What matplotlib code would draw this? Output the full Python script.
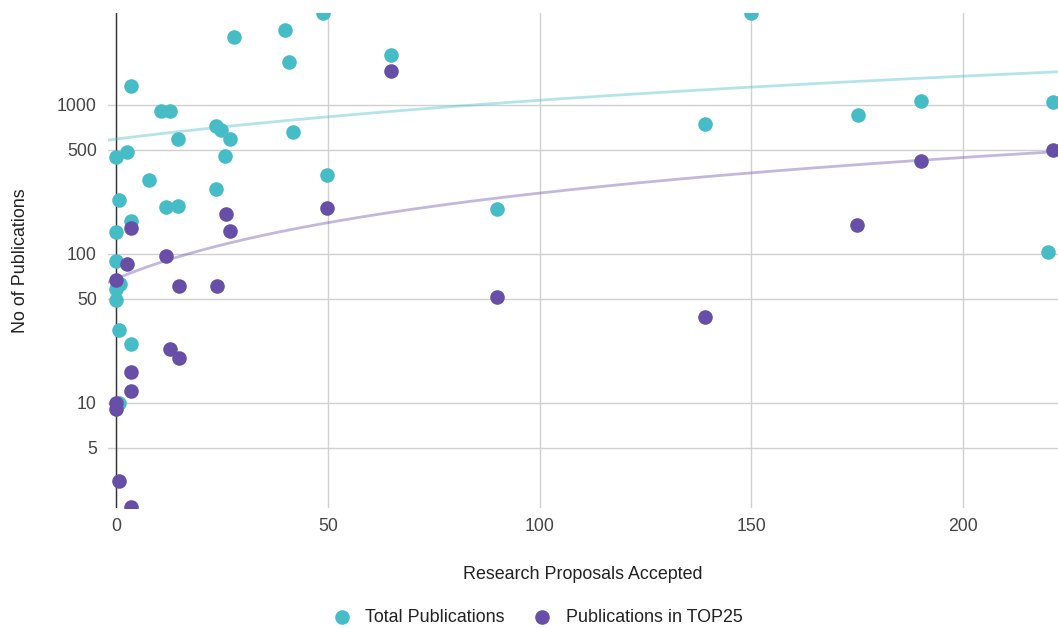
import numpy as np
import matplotlib.pyplot as plt

# research proposals accepted vs. publications
total_x = [3.5, 10.6, 12.7, 27.9, 39.9, 40.8, 48.9, 64.9, 23.6, 24.8, 14.6, 27.0, 41.8,
           0, 2.6, 25.7, 49.8, 7.8, 23.6, 0.7, 11.8, 14.6, 3.5, 0, 89.9, 139, 150,
           175.2, 190, 221.2, 220, 0, 0.9, 0, 0, 0.7, 3.5, 0.7]
total_y = [1341, 911, 911, 2857, 3185, 1944, 4140, 2166, 723, 680, 591, 591, 659,
           448, 484, 455, 339, 314, 273, 230, 207, 210, 166, 141, 201, 745, 4140,
           858, 1064, 1047, 103, 90, 63, 58, 49, 31, 25, 10]

top25_x = [64.9, 3.5, 26, 27, 49.8, 11.8, 2.6, 0, 14.9, 23.8, 89.9, 139, 175, 190,
           221.2, 12.7, 14.9, 3.5, 3.5, 0, 0, 0.7, 3.5]
top25_y = [1691, 149, 185, 143, 204, 97, 86, 67, 61, 61, 51, 38, 157, 421,
           499, 23, 20, 16, 12, 10, 9.1, 3.0, 2.0]

# linear trendlines (intercept, slope) as given by the spreadsheet
total_trend = (590, 4.85)
top25_trend = (68, 1.88)

teal = "#46BDC6"
purple = "#674EA7"

plt.rcParams["font.family"] = ["Liberation Sans", "DejaVu Sans"]

fig = plt.figure(figsize=(10.58, 6.28), dpi=100)
ax = fig.add_axes([108 / 1058, 1 - 508 / 628, 950 / 1058, 495 / 628])

ax.set_yscale("log")
ax.set_xlim(-1.9, 222.4)
ax.set_ylim(1.97, 4140)

xs = np.linspace(-1.9, 222.4, 300)
for (a, b), c in [(total_trend, teal), (top25_trend, purple)]:
    ax.plot(xs, a + b * xs, color=c, alpha=0.4, lw=2, zorder=2)

ax.scatter(total_x, total_y, s=110, color=teal, label="Total Publications", zorder=3, linewidths=0)
ax.scatter(top25_x, top25_y, s=110, color=purple, label="Publications in TOP25", zorder=3, linewidths=0)

ax.set_yticks([5, 10, 50, 100, 500, 1000])
ax.set_yticklabels(["5", "10", "50", "100", "500", "1000"])
ax.yaxis.set_minor_locator(plt.NullLocator())
ax.set_xticks([0, 50, 100, 150, 200])
ax.tick_params(length=0, labelsize=12.7, colors="#444444")
ax.tick_params(axis="y", pad=8)
ax.tick_params(axis="x", pad=7.5)
ax.grid(True, color="#d0d0d0", lw=1)
ax.set_axisbelow(True)
for s in ax.spines.values():
    s.set_visible(False)
ax.axvline(0, color="#333333", lw=1, zorder=1)

ax.set_xlabel("Research Proposals Accepted", fontsize=12.9, color="#222222", labelpad=22)
ax.set_ylabel("No of Publications", fontsize=12.9, color="#222222", labelpad=20)

fig.legend(loc="center", bbox_to_anchor=(0.504, 1 - 617 / 628), ncol=2, frameon=False,
           fontsize=12.9, handletextpad=0.3, columnspacing=1.1, markerscale=1.0,
           labelcolor="#222222")

fig.savefig("out.png", dpi=100)
